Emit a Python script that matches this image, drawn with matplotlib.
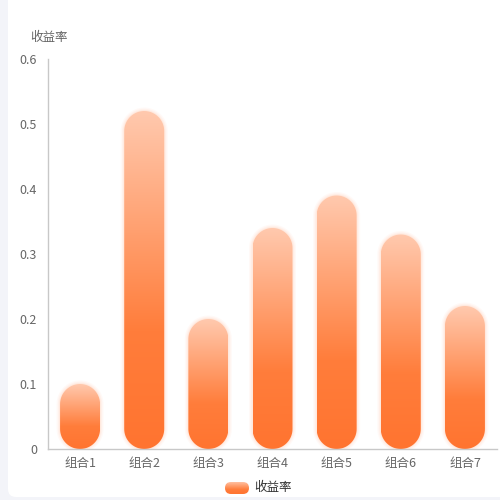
import numpy as np
import matplotlib
matplotlib.use("Agg")
import matplotlib.pyplot as plt
from matplotlib.path import Path
from matplotlib.patches import PathPatch, FancyBboxPatch
from matplotlib.colors import LinearSegmentedColormap

plt.rcParams['font.family'] = ['Noto Sans CJK SC', 'DejaVu Sans']

categories = ['组合1', '组合2', '组合3', '组合4', '组合5', '组合6', '组合7']
returns = [0.10, 0.52, 0.20, 0.34, 0.39, 0.33, 0.22]
yticks = [0, 0.1, 0.2, 0.3, 0.4, 0.5, 0.6]
ytick_labels = ['0', '0.1', '0.2', '0.3', '0.4', '0.5', '0.6']
series_name = '收益率'

W, H = 500, 500
fig = plt.figure(figsize=(5, 5), dpi=100, facecolor='#f3f4f9')

# white card
card = FancyBboxPatch((8 / W, 3 / H), 1.2, 1.2, boxstyle='round,pad=0,rounding_size=0.016',
                      transform=fig.transFigure, facecolor='white', edgecolor='none', zorder=-5)
fig.patches.append(card)

ax_l, ax_b, ax_r, ax_t = 48, 449, 497, 59
ax = fig.add_axes([ax_l / W, 1 - ax_b / H, (ax_r - ax_l) / W, (ax_b - ax_t) / H])
ax.set_facecolor('none')

n = len(categories)
xmin, xmax = -0.5, n - 0.5
ymin, ymax = 0, 0.6
px_x = (ax_r - ax_l) / (xmax - xmin)
px_y = (ax_b - ax_t) / (ymax - ymin)

bar_px = 40
half_w = bar_px / 2 / px_x
rx = half_w
ry = bar_px / 2 / px_y

cmap = LinearSegmentedColormap.from_list(
    'bar', [(0, '#ff7430'), (0.35, '#ff7d3b'), (1, '#ffc9ae')])


def capsule(xc, top, grow=0.0):
    gx = grow / px_x
    gy = grow / px_y
    a = rx + gx
    b = ry + gy
    bottom = 0 - gy
    t = top + gy
    th_top = np.linspace(0, np.pi, 40)
    th_bot = np.linspace(np.pi, 2 * np.pi, 40)
    top_c = t - b
    bot_c = bottom + b
    pts = []
    for th in th_top:
        pts.append((xc + a * np.cos(th), top_c + b * np.sin(th)))
    for th in th_bot:
        pts.append((xc + a * np.cos(th), bot_c + b * np.sin(th)))
    pts.append(pts[0])
    codes = [Path.MOVETO] + [Path.LINETO] * (len(pts) - 2) + [Path.CLOSEPOLY]
    return Path(pts, codes)


grad = np.linspace(0, 1, 256).reshape(-1, 1)
for i, v in enumerate(returns):
    # soft glow
    for g, a in [(3.5, 0.05), (2.2, 0.07), (1.0, 0.1)]:
        ax.add_patch(PathPatch(capsule(i, v, g), facecolor='#ff9a66', edgecolor='none',
                               alpha=a, zorder=2))
    clip = PathPatch(capsule(i, v), facecolor='none', edgecolor='none', transform=ax.transData)
    ax.add_patch(clip)
    im = ax.imshow(grad, cmap=cmap, origin='lower', aspect='auto',
                   extent=[i - half_w, i + half_w, 0, v], zorder=3, interpolation='bilinear')
    im.set_clip_path(clip)

ax.set_xlim(xmin, xmax)
ax.set_ylim(ymin, ymax)
ax.set_xticks(range(n))
ax.set_xticklabels(categories)
ax.set_yticks(yticks)
ax.set_yticklabels(ytick_labels)
for s in ['top', 'right']:
    ax.spines[s].set_visible(False)
for s in ['left', 'bottom']:
    ax.spines[s].set_color('#c8c8c8')
    ax.spines[s].set_linewidth(1)
    ax.spines[s].set_zorder(5)
ax.tick_params(axis='both', length=0, labelsize=9, colors='#666666')
ax.tick_params(axis='x', pad=6)
ax.tick_params(axis='y', pad=8)

fig.text(30 / W, 1 - 38 / H, series_name, fontsize=9, color='#666666', va='center', ha='left')

# legend: gradient rounded icon + label
lax = fig.add_axes([225 / W, 1 - 494 / H, 24 / W, 12 / H])
lax.set_axis_off()
lax.set_xlim(0, 1)
lax.set_ylim(0, 1)
icon = FancyBboxPatch((0, 0), 1, 1, boxstyle='round,pad=0,rounding_size=0.25',
                      facecolor='none', edgecolor='none', mutation_aspect=2.0)
lax.add_patch(icon)
lim = lax.imshow(grad, cmap=cmap, origin='lower', aspect='auto', extent=[0, 1, 0, 1],
                 interpolation='bilinear')
lim.set_clip_path(icon)
fig.text(254 / W, 1 - 487 / H, series_name, fontsize=9, color='#333333', va='center', ha='left')

fig.savefig('out.png', dpi=100, facecolor=fig.get_facecolor())
